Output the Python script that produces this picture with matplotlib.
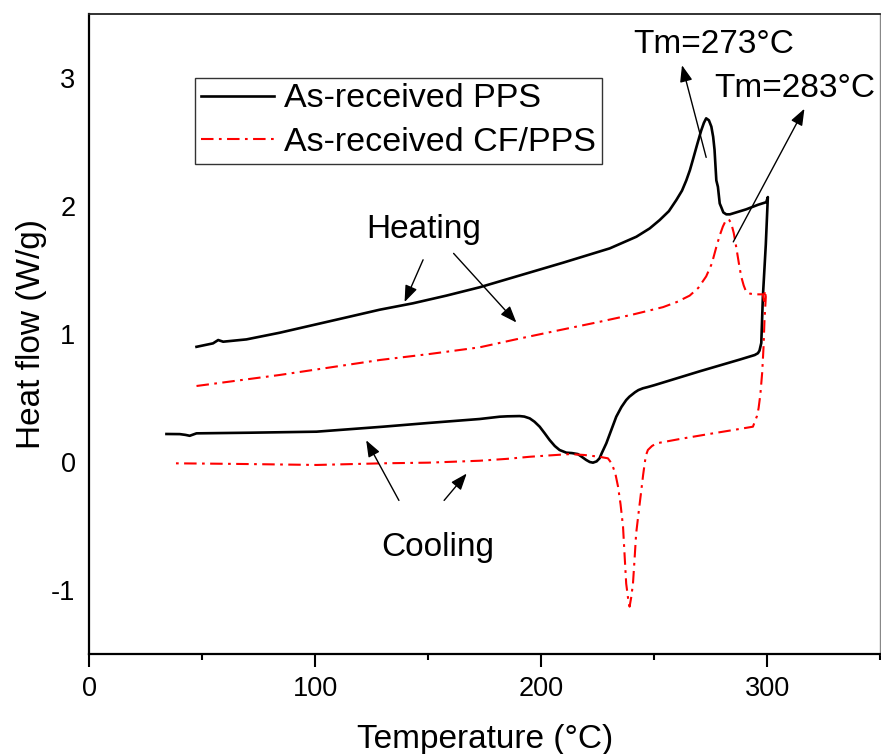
import matplotlib
matplotlib.use("Agg")
import matplotlib.pyplot as plt
from matplotlib.ticker import MultipleLocator

plt.rcParams['font.family'] = ['Liberation Sans', 'DejaVu Sans']
plt.rcParams['axes.unicode_minus'] = False

# As-received PPS: heating (47 -> 300 C) then cooling (300 -> 34 C)
pps_T = [47.4, 54.7, 57.0, 59.2, 69.5, 84.2, 99.0, 113.8, 128.5, 143.2, 158.0, 172.7,
         190.0, 209.6, 230.3, 242.1, 248.0, 252.4, 256.5, 259.8, 262.3, 264.2, 265.8,
         267.1, 269.0, 270.8, 272.0, 273.0, 274.2, 275.3, 276.1, 276.7, 277.5, 278.2,
         279.0, 279.7, 280.6, 281.9, 283.5, 290.7, 296.0, 299.6, 300.3,
         299.4, 298.1, 297.4, 296.6, 295.9, 294.5, 287.8, 270.0, 255.0, 250.0, 247.0,
         245.0, 243.0, 241.5, 239.0, 237.6, 235.5, 233.2, 231.0, 228.8, 226.8, 225.8,
         224.5, 222.9, 221.5, 219.9, 218.0, 216.2, 213.5, 211.1, 208.1, 206.0, 203.7,
         201.5, 199.3, 197.0, 194.9, 192.5, 190.4, 185.0, 181.6, 172.7, 150.0, 130.0,
         100.5, 71.0, 47.4, 45.5, 44.4, 42.5, 40.0, 34.1]
pps_H = [0.900, 0.927, 0.953, 0.940, 0.958, 1.010, 1.070, 1.130, 1.190, 1.240, 1.300, 1.365,
         1.455, 1.557, 1.669, 1.760, 1.825, 1.890, 1.960, 2.047, 2.120, 2.200, 2.280,
         2.360, 2.480, 2.590, 2.650, 2.685, 2.670, 2.620, 2.540, 2.440, 2.200, 2.150,
         2.020, 1.990, 1.950, 1.935, 1.935, 1.974, 2.010, 2.030, 2.070,
         1.700, 1.290, 0.930, 0.870, 0.850, 0.836, 0.800, 0.708, 0.627, 0.600, 0.585,
         0.576, 0.562, 0.545, 0.510, 0.484, 0.430, 0.354, 0.250, 0.146, 0.070, 0.029,
         0.005, -0.005, 0.000, 0.016, 0.040, 0.062, 0.070, 0.073, 0.094, 0.125, 0.172,
         0.225, 0.276, 0.315, 0.341, 0.355, 0.359, 0.357, 0.354, 0.336, 0.305, 0.276,
         0.237, 0.229, 0.224, 0.212, 0.205, 0.212, 0.218, 0.219]

# As-received CF/PPS: heating (47 -> 299 C) then cooling (299 -> 36 C)
cf_T = [47.4, 84.2, 128.5, 150.6, 172.7, 190.5, 208.0, 224.4, 240.0, 253.9, 260.0,
        265.7, 269.5, 273.0, 275.5, 277.5, 279.0, 280.4, 281.5, 282.3, 283.2, 284.1,
        285.2, 286.3, 287.5, 288.5, 289.6, 290.7, 292.5, 295.2, 298.1, 298.6, 299.0,
        299.4, 298.8, 298.4, 297.8, 297.0, 296.2, 295.5, 293.7, 285.0, 276.0, 262.0,
        251.0, 249.0, 247.2, 246.3, 245.8, 245.1, 244.3, 243.2, 242.0, 241.3, 240.6,
        239.8, 239.1, 238.4, 237.6, 236.9, 236.2, 235.1, 234.0, 232.8, 231.7, 230.5,
        229.5, 225.8, 219.0, 212.6, 204.0, 194.9, 185.0, 172.7, 150.0, 130.0, 100.5,
        71.0, 50.0, 36.3]
cf_H = [0.594, 0.680, 0.797, 0.844, 0.896, 0.965, 1.030, 1.090, 1.150, 1.210, 1.250,
        1.300, 1.360, 1.450, 1.550, 1.680, 1.770, 1.840, 1.880, 1.896, 1.890, 1.865,
        1.790, 1.680, 1.550, 1.450, 1.380, 1.330, 1.315, 1.310, 1.310, 1.260, 1.340,
        1.290, 1.100, 0.900, 0.700, 0.530, 0.420, 0.360, 0.276, 0.250, 0.224, 0.182,
        0.146, 0.125, 0.094, 0.050, -0.010, -0.100, -0.220, -0.380, -0.560, -0.760, -0.950,
        -1.060, -1.130, -1.060, -0.950, -0.730, -0.505, -0.330, -0.193, -0.090, -0.036, 0.005,
        0.029, 0.041, 0.055, 0.062, 0.052, 0.041, 0.025, 0.010, -0.005, -0.010, -0.023,
        -0.016, -0.012, -0.010]

fig = plt.figure(figsize=(8.81, 7.54), dpi=100)
ax = fig.add_axes([0.1015, 0.1326, 0.8975, 0.8488])

ax.plot(pps_T, pps_H, color='black', lw=1.9, label='As-received PPS')
ax.plot(cf_T, cf_H, color='red', lw=1.5, linestyle=(0, (6, 2.6, 1.3, 2.6)),
        label='As-received CF/PPS')

ax.set_xlim(0, 350)
ax.set_ylim(-1.5, 3.5)
ax.xaxis.set_major_locator(MultipleLocator(100))
ax.xaxis.set_minor_locator(MultipleLocator(50))
ax.yaxis.set_major_locator(MultipleLocator(1))
ax.tick_params(axis='x', which='major', direction='out', length=9, width=1.5,
               labelsize=19.5, pad=7)
ax.tick_params(axis='x', which='minor', direction='out', length=4.5, width=1.5)
ax.tick_params(axis='y', which='both', length=0, labelsize=19.5, pad=10)
ax.tick_params(top=False, right=False)

for s in ['left', 'bottom']:
    ax.spines[s].set_linewidth(1.6)
ax.spines['top'].set_linewidth(1.3)
ax.spines['top'].set_color('#222222')
ax.spines['right'].set_linewidth(1.0)
ax.spines['right'].set_color('#888888')

ax.set_xlabel('Temperature (°C)', fontsize=24, labelpad=16)
ax.set_ylabel('Heat flow (W/g)', fontsize=24, labelpad=3)

leg = ax.legend(loc='upper left', bbox_to_anchor=(0.134, 0.90), fontsize=24.5,
                frameon=True, fancybox=False, edgecolor='black', handlelength=2.15,
                handletextpad=0.3, borderpad=0.16, labelspacing=0.38, borderaxespad=0)
leg.get_frame().set_linewidth(1.0)

ap = dict(arrowstyle='-|>,head_length=1.0,head_width=0.38', color='black', lw=1.0,
          shrinkA=0, shrinkB=0)
ax.text(148, 1.82, 'Heating', fontsize=24, ha='center', va='center')
ax.annotate('', xy=(139.5, 1.25), xytext=(147.7, 1.58), arrowprops=ap)
ax.annotate('', xy=(189, 1.09), xytext=(161.2, 1.63), arrowprops=ap)
ax.text(154, -0.67, 'Cooling', fontsize=24, ha='center', va='center')
ax.annotate('', xy=(122.5, 0.17), xytext=(137, -0.3), arrowprops=ap)
ax.annotate('', xy=(167, -0.09), xytext=(157, -0.3), arrowprops=ap)
ax.text(276.5, 3.26, 'Tm=273°C', fontsize=24, ha='center', va='center')
ax.annotate('', xy=(262.3, 3.1), xytext=(273, 2.38), arrowprops=ap)
ax.text(312, 2.92, 'Tm=283°C', fontsize=24, ha='center', va='center')
ax.annotate('', xy=(316.5, 2.76), xytext=(285, 1.72), arrowprops=ap)

fig.savefig('out.png', dpi=100)
